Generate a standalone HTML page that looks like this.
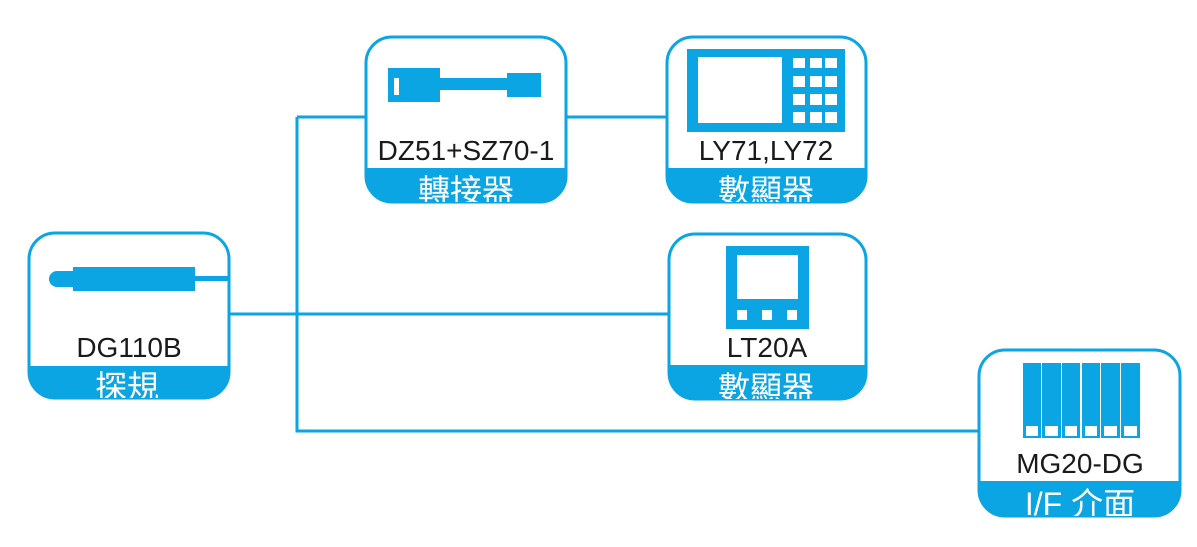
<!DOCTYPE html>
<html><head><meta charset="utf-8"><style>
html,body{margin:0;padding:0;background:#fff;width:1197px;height:547px;overflow:hidden}
svg{display:block}
.m{font-family:"Liberation Sans",Arial,sans-serif;font-size:28px;fill:#1a1a1a;text-anchor:middle}
.c{font-family:"Liberation Sans","Noto Sans CJK TC",sans-serif;font-size:32px;fill:#fff;text-anchor:middle}
</style></head><body>
<svg width="1197" height="547" viewBox="0 0 1197 547">
<defs>
<clipPath id="k1"><rect x="29" y="233" width="200" height="165" rx="26"/></clipPath>
<clipPath id="k2"><rect x="366" y="37" width="200" height="165" rx="26"/></clipPath>
<clipPath id="k3"><rect x="667" y="37" width="199" height="165" rx="26"/></clipPath>
<clipPath id="k4"><rect x="669" y="234" width="197" height="165" rx="26"/></clipPath>
<clipPath id="k5"><rect x="979" y="350" width="201" height="166" rx="26"/></clipPath>
</defs>
<g stroke="#0aa5e2" stroke-width="3" fill="none">
<path d="M229 314H669"/><path d="M297 117V431H979"/><path d="M297 117H366"/><path d="M566 117H667"/>
</g>
<g fill="#0aa5e2">
<g clip-path="url(#k1)"><rect x="29" y="366" width="200" height="40"/></g>
<g clip-path="url(#k2)"><rect x="366" y="168" width="200" height="40"/></g>
<g clip-path="url(#k3)"><rect x="667" y="168" width="199" height="40"/></g>
<g clip-path="url(#k4)"><rect x="669" y="365" width="197" height="40"/></g>
<g clip-path="url(#k5)"><rect x="979" y="481" width="201" height="40"/></g>
</g>
<g fill="none" stroke="#0aa5e2" stroke-width="3">
<rect x="29" y="233" width="200" height="165" rx="26"/>
<rect x="366" y="37" width="200" height="165" rx="26"/>
<rect x="667" y="37" width="199" height="165" rx="26"/>
<rect x="669" y="234" width="197" height="165" rx="26"/>
<rect x="979" y="350" width="201" height="166" rx="26"/>
</g>
<g fill="#0aa5e2">
<rect x="73" y="267" width="122" height="24"/>
<path d="M73 271H57a8 8 0 0 0 0 16H73z"/>
<rect x="195" y="276" width="34" height="5"/>
</g>
<g fill="#0aa5e2">
<rect x="388" y="68" width="52" height="34"/>
<rect x="440" y="78" width="67" height="12"/>
<rect x="507" y="73" width="34" height="24"/>
</g>
<rect x="394" y="78" width="5" height="17" fill="#fff"/>
<rect x="687" y="49" width="158" height="83" fill="#0aa5e2"/>
<rect x="698" y="57" width="84" height="66" fill="#fff"/>
<g fill="#fff">
<rect x="793" y="58" width="12" height="10"/><rect x="810" y="58" width="12" height="10"/><rect x="825" y="58" width="12" height="10"/>
<rect x="793" y="76" width="12" height="11"/><rect x="810" y="76" width="12" height="11"/><rect x="825" y="76" width="12" height="11"/>
<rect x="793" y="94" width="12" height="11"/><rect x="810" y="94" width="12" height="11"/><rect x="825" y="94" width="12" height="11"/>
<rect x="793" y="112" width="12" height="11"/><rect x="810" y="112" width="12" height="11"/><rect x="825" y="112" width="12" height="11"/>
</g>
<rect x="726" y="246" width="83" height="83" fill="#0aa5e2"/>
<rect x="737" y="255" width="61" height="44" fill="#fff"/>
<g fill="#fff"><rect x="737" y="310" width="10" height="10"/><rect x="762" y="310" width="10" height="10"/><rect x="787" y="310" width="10" height="10"/></g>
<g fill="#0aa5e2">
<rect x="1023" y="363" width="18" height="75"/><rect x="1042" y="363" width="19" height="75"/><rect x="1062" y="363" width="18" height="75"/>
<rect x="1082" y="363" width="18" height="75"/><rect x="1101" y="363" width="19" height="75"/><rect x="1121" y="363" width="19" height="75"/>
</g>
<g fill="#fff">
<rect x="1026" y="426" width="12" height="10"/><rect x="1045" y="426" width="13" height="10"/><rect x="1065" y="426" width="12" height="10"/>
<rect x="1085" y="426" width="12" height="10"/><rect x="1104" y="426" width="13" height="10"/><rect x="1124" y="426" width="13" height="10"/>
</g>
<text class="m" x="129" y="357">DG110B</text>
<text class="m" x="466" y="160">DZ51+SZ70-1</text>
<text class="m" x="766" y="160">LY71,LY72</text>
<text class="m" x="767" y="357">LT20A</text>
<text class="m" x="1080" y="473">MG20-DG</text>
<g clip-path="url(#k1)"><text class="c" x="127" y="398">探規</text></g>
<g clip-path="url(#k2)"><text class="c" x="466" y="202">轉接器</text></g>
<g clip-path="url(#k3)"><text class="c" x="766" y="202">數顯器</text></g>
<g clip-path="url(#k4)"><text class="c" x="766" y="399">數顯器</text></g>
<g clip-path="url(#k5)"><text class="c" x="1080" y="515">I/F 介面</text></g>
</svg>
</body></html>
